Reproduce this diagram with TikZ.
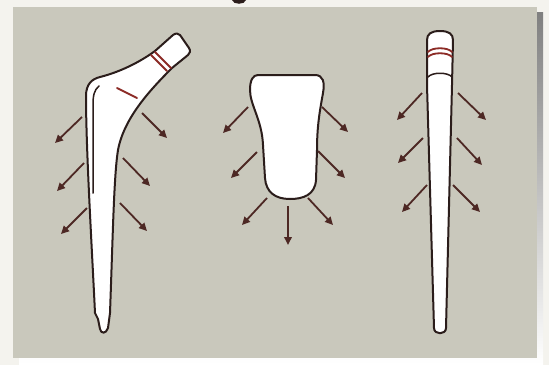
\documentclass[tikz,border=0pt]{standalone}
\usetikzlibrary{arrows.meta}
\definecolor{paper}{RGB}{244,243,238}
\definecolor{panel}{RGB}{201,200,188}
\definecolor{shade}{RGB}{58,28,22}
\definecolor{ink}{RGB}{43,29,27}
\definecolor{band}{RGB}{140,43,38}
\definecolor{push}{RGB}{77,40,36}
\tikzset{
  implant/.style={draw=ink, line width=2pt, fill=white, line join=round},
  pusharrow/.style={draw=push, line width=1.8pt, -{Triangle[length=8pt,width=7.5pt]}, shorten <=0pt},
  bandline/.style={draw=band, line width=1.8pt, line cap=round},
  innerline/.style={draw=ink, line width=1.5pt, line cap=round},
}
\begin{document}
\begin{tikzpicture}[x=1pt,y=-1pt]
\useasboundingbox (0,0) rectangle (549,365);
\fill[paper] (0,0) rectangle (549,365);
% title glyph cut at the top edge
\fill[ink] (232,0) .. controls (233,5) and (245,5) .. (246,0) -- cycle;
% panel with its drop shadow
\fill[shade] (19,12) rectangle (543,364);
\fill[panel] (13,7) rectangle (537,358);

% ---------------- anatomic stem with neck ----------------
\path[implant] (155,51) -- (173,35) .. controls (176,33) and (178,33) .. (180,35)
  -- (189,48) .. controls (191,51) and (190,53) .. (188,55) -- (172,68)
  .. controls (150,90) and (124,118) .. (118,150)
  .. controls (114,175) and (113,230) .. (110,313)
  -- (108,328) .. controls (106,334) and (101,334) .. (100,329)
  -- (98,319) -- (95,313)
  .. controls (92,250) and (86,150) .. (86,96)
  .. controls (86,84) and (92,79) .. (100,77)
  .. controls (120,72) and (140,62) .. (155,51) -- cycle;
\draw[bandline] (155,52) -- (171,68);
\draw[bandline] (151,55) -- (167,71);
\draw[bandline] (117,88) -- (137,98);
\draw[innerline] (99,86) .. controls (94,90) and (93,96) .. (93,105) -- (93,193);
% load arrows
\draw[pusharrow] (82,117) -- (55,143);
\draw[pusharrow] (84,163) -- (57,191);
\draw[pusharrow] (87,208) -- (61,234);
\draw[pusharrow] (142,113) -- (167,138);
\draw[pusharrow] (123,158) -- (150,186);
\draw[pusharrow] (120,203) -- (147,231);

% ---------------- short wedge stem ----------------
\path[implant] (258,75) -- (315,75)
  .. controls (323,75) and (325,82) .. (323,93)
  .. controls (320,110) and (317,125) .. (317,150)
  -- (316,180) .. controls (315,195) and (303,199) .. (290,199)
  .. controls (275,199) and (266,192) .. (265,178)
  -- (263,145) .. controls (262,120) and (250,105) .. (250,90)
  .. controls (250,80) and (253,75) .. (258,75) -- cycle;
\draw[pusharrow] (248,107) -- (223,133);
\draw[pusharrow] (257,152) -- (231,178);
\draw[pusharrow] (267,198) -- (242,225);
\draw[pusharrow] (322,107) -- (348,132);
\draw[pusharrow] (318,151) -- (345,178);
\draw[pusharrow] (308,198) -- (333,225);
\draw[pusharrow] (288,206) -- (288,245);

% ---------------- straight tapered stem ----------------
\path[implant] (427,85) -- (427,40)
  .. controls (427,34) and (431,31) .. (440,31)
  .. controls (449,31) and (453,34) .. (453,40)
  -- (452,85) -- (446,328)
  .. controls (446,335) and (434,335) .. (434,328) -- cycle;
\draw[bandline] (428,52) .. controls (432,47) and (448,47) .. (452,52);
\draw[bandline] (428,57) .. controls (432,52) and (448,52) .. (452,57);
\draw[innerline] (428,77) .. controls (432,72) and (448,72) .. (452,77);
\draw[pusharrow] (422,93) -- (397,120);
\draw[pusharrow] (423,138) -- (398,163);
\draw[pusharrow] (427,185) -- (402,212);
\draw[pusharrow] (458,93) -- (486,120);
\draw[pusharrow] (457,138) -- (482,165);
\draw[pusharrow] (453,185) -- (480,212);
\end{tikzpicture}
\end{document}
